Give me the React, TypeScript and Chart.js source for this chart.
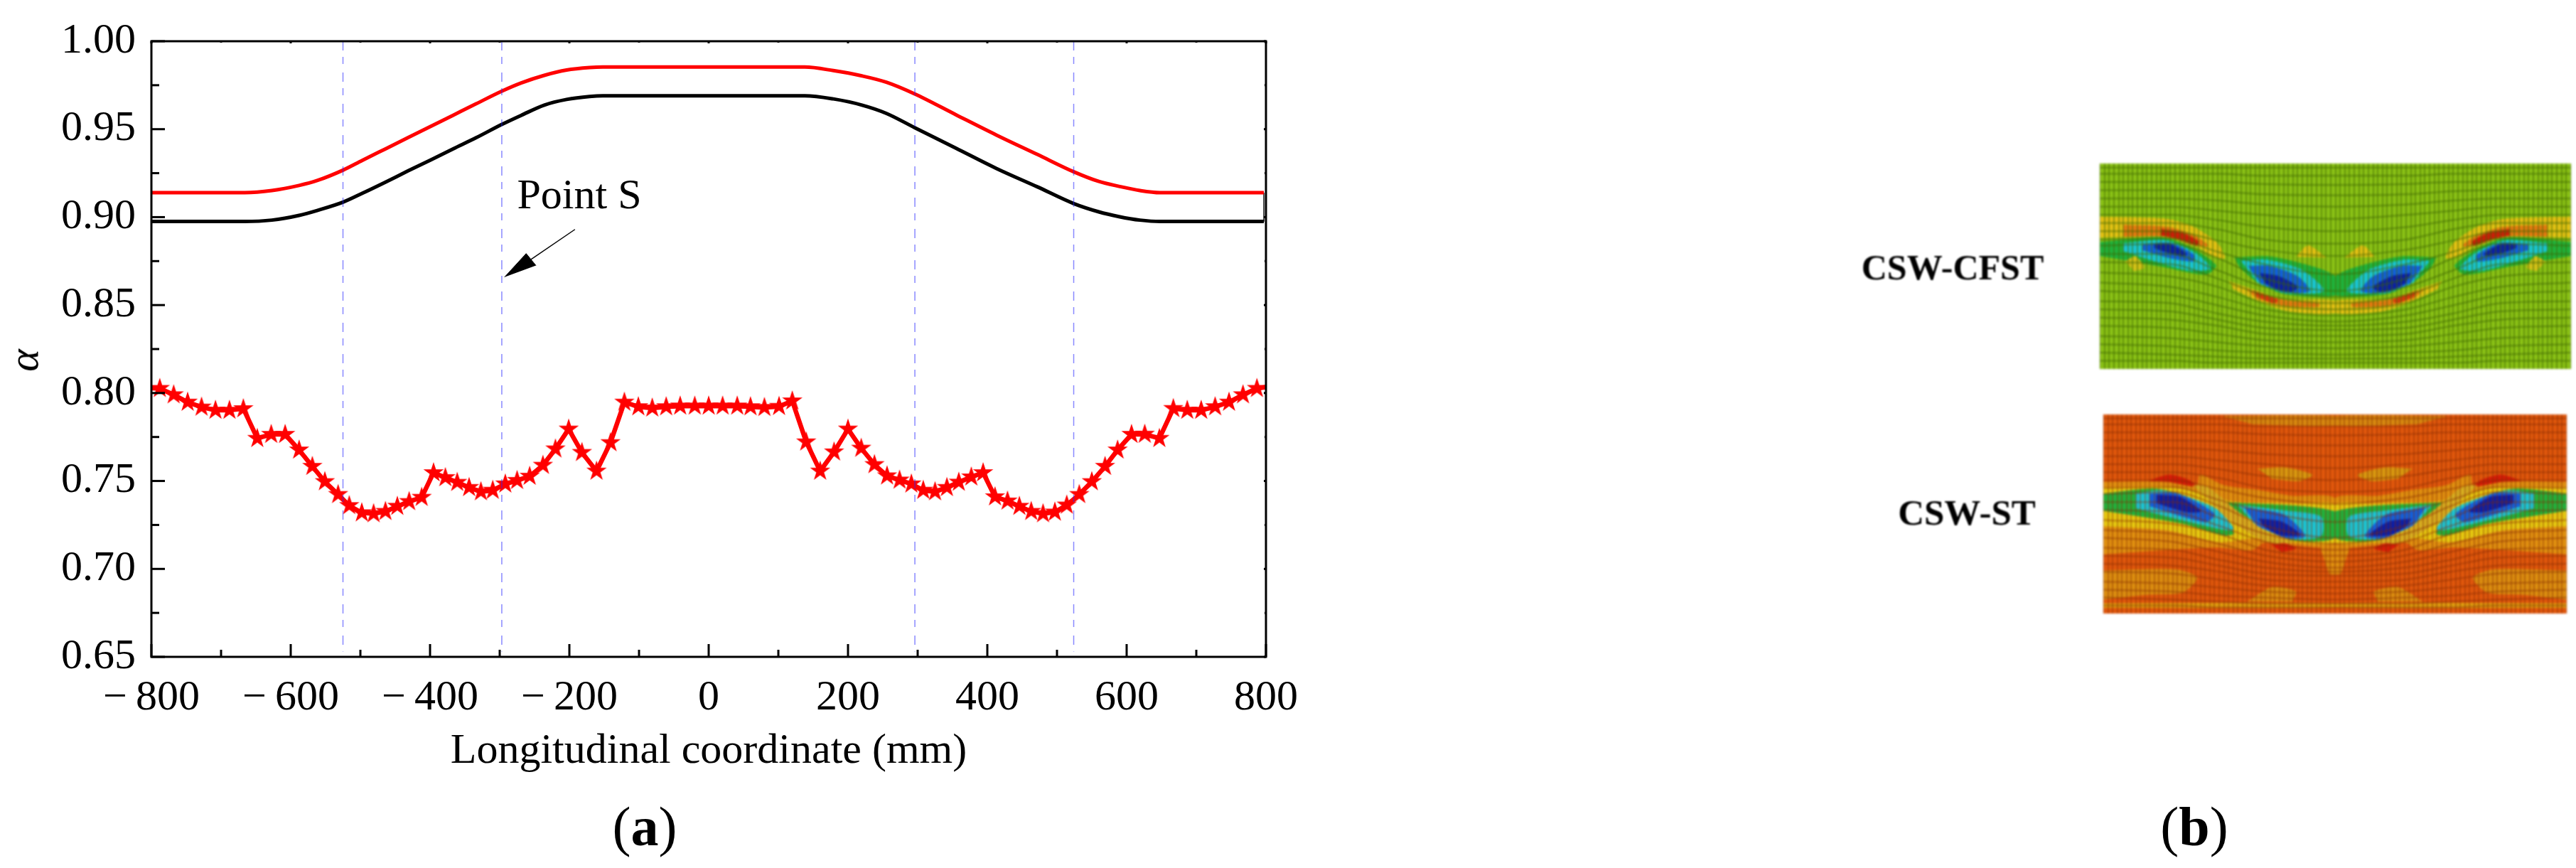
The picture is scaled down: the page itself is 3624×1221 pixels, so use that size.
import React, { useEffect, useRef } from "react";
import { Chart, registerables } from "chart.js";

Chart.register(...registerables);
document.body.style.margin = "0";

const SERIF = '"Liberation Serif", "Times New Roman", serif';

// panel (a) data
const redX = [-800, -666, -627, -588, -562, -525, -497, -464, -432, -399, -367, -334, -297, -269, -236, -204, -171, -152, 138, 179, 220, 255, 296, 355, 413, 472, 524, 560, 589, 619, 648, 797];
const redY = [0.9139, 0.9139, 0.9151, 0.918, 0.9208, 0.9267, 0.9323, 0.9388, 0.9451, 0.9516, 0.9579, 0.9644, 0.9716, 0.9763, 0.9806, 0.9836, 0.985, 0.9853, 0.9853, 0.9833, 0.9803, 0.9767, 0.97, 0.9582, 0.9467, 0.9356, 0.9258, 0.9203, 0.9175, 0.9151, 0.9139, 0.9139];
const blackY = [0.8975, 0.8975, 0.8983, 0.901, 0.9038, 0.9085, 0.9136, 0.9199, 0.9262, 0.9325, 0.9388, 0.9451, 0.9527, 0.9579, 0.9637, 0.9669, 0.9686, 0.969, 0.969, 0.9672, 0.9637, 0.959, 0.9508, 0.9392, 0.9277, 0.9172, 0.9077, 0.903, 0.9003, 0.8983, 0.8975, 0.8975];

const starX = [-800, -788, -768, -748, -728, -708, -688, -668, -648, -628, -608, -588, -569, -551, -532, -516, -498, -481, -464, -447, -430, -412, -395, -378, -361, -344, -327, -310, -292, -275, -257, -238, -220, -201, -182, -161, -141, -121, -101, -81, -61, -41, -20, 0, 20, 41, 60, 80, 101, 120, 140, 160, 180, 200, 219, 238, 256, 274, 291, 308, 325, 342, 359, 377, 394, 411, 429, 446, 463, 480, 497, 514, 532, 550, 569, 587, 607, 626, 647, 667, 687, 707, 727, 747, 767, 787, 800];
const starY = [0.8028, 0.8026, 0.799, 0.7948, 0.792, 0.7902, 0.7902, 0.7911, 0.7742, 0.7765, 0.7765, 0.7676, 0.7583, 0.7496, 0.7423, 0.736, 0.7319, 0.7314, 0.7327, 0.7356, 0.7383, 0.7407, 0.7547, 0.7519, 0.7492, 0.7463, 0.7439, 0.7447, 0.7483, 0.7503, 0.7527, 0.7589, 0.7682, 0.7795, 0.7662, 0.7556, 0.7718, 0.7948, 0.7922, 0.7915, 0.7922, 0.7926, 0.7926, 0.7926, 0.7926, 0.7926, 0.7922, 0.7918, 0.7924, 0.7955, 0.7722, 0.7556, 0.7665, 0.7795, 0.7686, 0.7593, 0.7529, 0.7505, 0.7483, 0.7447, 0.7439, 0.7463, 0.7493, 0.7523, 0.7547, 0.741, 0.7386, 0.7356, 0.7327, 0.7314, 0.7323, 0.7363, 0.7423, 0.7496, 0.7583, 0.7676, 0.7765, 0.7766, 0.7742, 0.7912, 0.7902, 0.7902, 0.7922, 0.7948, 0.799, 0.8026, 0.8034];

const refLineX = [-525, -297, 296, 524];
const xMinorTicks = [-700, -500, -300, -100, 100, 300, 500, 700];
const yMinorTicks = [0.675, 0.725, 0.775, 0.825, 0.875, 0.925, 0.975];

const arrowLine: [number, number][] = [[-192, 0.893], [-255, 0.876]];
const arrowHead: [number, number][] = [[-293, 0.8659], [-262, 0.8793], [-248, 0.8725]];

// panel (b) contour shapes, left half in percent of the panel, mirrored on x = 50
type Shape = { color: string; pts: number[][] };

const meshX = [0, 15, 25, 35, 50];
const meshRows = [
  [2, 2, 2, 2, 2], [5, 5, 5, 6, 6], [9, 9, 9, 10, 10.5], [13, 13, 13.5, 15, 15.5],
  [17, 17, 18, 20, 21], [21, 21, 23, 25, 27], [25, 25, 27.5, 31, 33], [29, 29, 32, 37, 39],
  [33, 33, 37.5, 42, 45], [37, 36.5, 43, 49, 54], [40, 39, 46, 56, 62], [44, 44, 52, 60, 65],
  [48, 49, 56, 64, 68], [53, 55, 60, 68, 71], [58, 60, 65, 71, 74], [62, 64, 69, 74, 77],
  [67, 68, 73, 77, 79], [71, 72, 76, 80, 81], [75, 76, 79, 83, 84], [79, 80, 83, 86, 87],
  [84, 85, 87, 89, 90], [88, 89, 91, 92, 93], [92, 93, 94, 95, 95], [96, 96, 97, 97, 97],
];

const GREEN = "#1fb43c";
const CYAN = "#18c8d8";
const BLUE = "#1060e0";
const DARK = "#0a1ea8";

const cfstShapes: Shape[] = [
  { color: "#e8c414", pts: [[0, 26], [14, 27], [20, 31], [25, 39], [26.5, 46], [24, 45], [20, 39.5], [14, 35.5], [0, 36]] },
  { color: "#e87a10", pts: [[5, 30], [14.5, 31], [20, 35], [23, 40], [20, 39.5], [14, 35.5], [5, 35.5]] },
  { color: "#d01c08", pts: [[13, 32], [17.4, 33.7], [21, 38], [20.6, 39.9], [16.6, 36.6], [13, 34.9]] },
  { color: GREEN, pts: [[0, 38.4], [13, 36], [19, 40.7], [24.6, 49.5], [22.5, 54], [13, 50], [0, 44.8]] },
  { color: CYAN, pts: [[5, 39], [14, 37.5], [20.5, 44], [23.5, 51], [19, 52], [11, 47], [5, 42.5]] },
  { color: BLUE, pts: [[9, 39.5], [15, 38.8], [20, 44.5], [20, 47.5], [15, 46], [9, 42]] },
  { color: DARK, pts: [[11.6, 39.5], [15, 39.5], [18.5, 44], [17.5, 45], [14, 43], [11.6, 41]] },
  { color: "#e8c414", pts: [[41.7, 45.4], [44.2, 40], [48, 45.8]] },
  { color: "#d8c418", pts: [[5.4, 47.7], [7.6, 45.3], [9.4, 50.7], [7.2, 52.2]] },
  { color: "#e8c414", pts: [[27.5, 57.5], [33.3, 62], [39, 66.3], [50, 67], [50, 72.7], [40.5, 72], [34.8, 68], [28.3, 61]] },
  { color: "#e87a10", pts: [[31, 61], [34.8, 64], [39.9, 66.9], [46.4, 68], [46.4, 69.7], [39, 69.1], [33.3, 65.7]] },
  { color: "#d8380c", pts: [[32.6, 62], [37.7, 66.3], [37, 68], [33.3, 64.5]] },
  { color: GREEN, pts: [[28.6, 45.9], [36.2, 45.4], [45.7, 50.6], [50, 55.2], [50, 64], [39.1, 63.4], [33.3, 57.5], [29.7, 50.6]] },
  { color: CYAN, pts: [[30, 47.5], [35.5, 47], [43, 52], [47.5, 62], [39.5, 63], [33.5, 58]] },
  { color: BLUE, pts: [[31.5, 50], [36, 50], [42, 55], [44.5, 62], [39, 62.5], [34, 58]] },
  { color: DARK, pts: [[34, 53.5], [38, 55], [42, 60], [41, 62], [38, 61.5], [35, 58]] },
];

const stShapes: Shape[] = [
  { color: "#d88a10", pts: [[26, 1], [50, 1], [50, 5.4], [32, 4.8]] },
  { color: "#d99a10", pts: [[33.4, 27.4], [39.3, 26.8], [45.1, 30.4], [42.2, 33.3], [36.3, 32.1]] },
  { color: "#d81c08", pts: [[9.9, 33.3], [14.3, 30.4], [18.7, 33.3], [20.2, 36.9], [12.1, 34.5]] },
  { color: "#dd9010", pts: [[0, 78.6], [15.8, 78], [20.2, 82], [17.2, 89.3], [9.2, 90.5], [0, 92.9]] },
  { color: "#dd9010", pts: [[31.2, 94], [36.3, 87], [41.5, 89], [40.7, 94]] },
  { color: "#e0a010", pts: [[0, 95], [50, 95], [50, 97], [0, 97]] },
  { color: "#e29210", pts: [[0, 34], [13.6, 34], [20.2, 36.3], [20.9, 30.4], [26, 35.7], [33.4, 38.1], [40.7, 41], [50, 42.3], [50, 65.5], [40.7, 65.5], [34.8, 64.3], [32, 68], [24.6, 66.7], [13.6, 67.9], [0, 70.2]] },
  { color: "#e29210", pts: [[46.6, 65.5], [50, 65.5], [50, 80], [48.7, 80]] },
  { color: "#e8cc10", pts: [[0, 37], [13.6, 36.5], [20.2, 39], [28, 44], [36, 44.5], [42, 45], [50, 45.5], [50, 64], [41, 64], [33, 62], [25, 64], [13.6, 58], [0, 56]] },
  { color: GREEN, pts: [[0, 39.9], [11.4, 37.5], [19.4, 42.9], [28.2, 59.5], [26, 60.7], [17.2, 54.8], [0, 48.2]] },
  { color: CYAN, pts: [[7, 39.9], [13, 38.3], [24, 47], [28, 58], [17, 53], [7, 47]] },
  { color: BLUE, pts: [[10, 40], [16, 39.8], [24, 50], [22, 54], [10, 46]] },
  { color: DARK, pts: [[11.5, 40.5], [16.5, 41.5], [21, 48.5], [18, 49], [11.5, 44.5]] },
  { color: GREEN, pts: [[24.6, 44], [50, 48.8], [50, 61.9], [40.7, 63.1], [35.6, 57.1]] },
  { color: CYAN, pts: [[29, 45.5], [39.5, 48.5], [47, 51.5], [47, 61], [40.7, 62.5], [33, 56]] },
  { color: BLUE, pts: [[30.5, 47], [39, 50.5], [43.5, 61], [39.5, 62], [33, 55.5]] },
  { color: DARK, pts: [[33.5, 52.5], [38.5, 54], [42.5, 60.5], [38, 60.5], [34.5, 56]] },
  { color: "#d8b020", pts: [[19.4, 35.7], [22.4, 36.3], [29, 48.8], [35.6, 59.5], [40.7, 63.7], [38.5, 65.5], [33.4, 61.9], [26.8, 52.4]] },
  { color: "#d81c08", pts: [[36.3, 65.5], [39.3, 64.9], [41.5, 67.3], [38.5, 69]] },
];

const zip = (xs: number[], ys: number[]) => xs.map((x, i) => ({ x, y: ys[i] }));
const toXY = (pts: number[][]) => pts.map(([x, y]) => ({ x, y }));

function makeStar(r: number) {
  const c = document.createElement("canvas");
  c.width = c.height = Math.ceil(r * 2 + 2);
  const ctx = c.getContext("2d")!;
  const m = c.width / 2;
  ctx.fillStyle = "#ff0000";
  ctx.beginPath();
  for (let i = 0; i < 10; i++) {
    const rad = i % 2 ? r * 0.382 : r;
    const a = -Math.PI / 2 + (i * Math.PI) / 5;
    ctx.lineTo(m + rad * Math.cos(a), m + rad * Math.sin(a));
  }
  ctx.closePath();
  ctx.fill();
  return c;
}

// inward ticks and the closed frame
const framePlugin = {
  id: "frame",
  afterDatasetsDraw(chart: any) {
    const { ctx, chartArea: a, scales } = chart;
    ctx.save();
    ctx.strokeStyle = "#000";
    ctx.lineWidth = 3;
    ctx.strokeRect(a.left, a.top, a.right - a.left, a.bottom - a.top);
    const tick = (x1: number, y1: number, x2: number, y2: number) => {
      ctx.beginPath();
      ctx.moveTo(x1, y1);
      ctx.lineTo(x2, y2);
      ctx.stroke();
    };
    scales.x.ticks.forEach((t: any) => {
      const px = scales.x.getPixelForValue(t.value);
      tick(px, a.bottom, px, a.bottom - 18);
      tick(px, a.top, px, a.top + 3);
    });
    xMinorTicks.forEach((v) => {
      const px = scales.x.getPixelForValue(v);
      tick(px, a.bottom, px, a.bottom - 10);
      tick(px, a.top, px, a.top + 2);
    });
    scales.y.ticks.forEach((t: any) => {
      const py = scales.y.getPixelForValue(t.value);
      tick(a.left, py, a.left + 19, py);
      tick(a.right, py, a.right - 3, py);
    });
    yMinorTicks.forEach((v) => {
      const py = scales.y.getPixelForValue(v);
      tick(a.left, py, a.left + 11, py);
      tick(a.right, py, a.right - 2, py);
    });
    ctx.restore();
  },
};

function LineChart() {
  const canvasRef = useRef<HTMLCanvasElement | null>(null);

  useEffect(() => {
    if (!canvasRef.current) return;
    const star = makeStar(15);
    const chart = new Chart(canvasRef.current, {
      type: "scatter",
      data: {
        datasets: [
          ...refLineX.map((x) => ({
            data: [{ x, y: 1 }, { x, y: 0.653 }],
            showLine: true,
            borderColor: "rgba(40,40,255,0.55)",
            borderWidth: 1.5,
            borderDash: [13, 9, 10, 12],
            pointRadius: 0,
          })),
          {
            data: toXY(arrowHead),
            showLine: true,
            fill: "shape",
            backgroundColor: "#000",
            borderColor: "#000",
            borderWidth: 1,
            pointRadius: 0,
          },
          {
            data: toXY(arrowLine),
            showLine: true,
            borderColor: "#000",
            borderWidth: 1.5,
            pointRadius: 0,
          },
          {
            data: zip(starX, starY),
            showLine: true,
            borderColor: "#ff0000",
            borderWidth: 6.5,
            borderJoinStyle: "round",
            pointStyle: star,
            pointRadius: starX.map((x) => (Math.abs(x) === 800 ? 0 : 10)),
          },
          {
            data: zip(redX, redY),
            showLine: true,
            borderColor: "#ff0000",
            borderWidth: 5,
            cubicInterpolationMode: "monotone",
            pointRadius: 0,
          },
          {
            data: zip(redX, blackY),
            showLine: true,
            borderColor: "#000",
            borderWidth: 5,
            cubicInterpolationMode: "monotone",
            pointRadius: 0,
          },
          {
            data: [{ x: 797, y: 0.9139 }, { x: 797, y: 0.8975 }],
            showLine: true,
            borderColor: "#333",
            borderWidth: 1,
            pointRadius: 0,
          },
        ] as any,
      },
      options: {
        animation: false,
        responsive: false,
        devicePixelRatio: 1,
        layout: { padding: { left: 0, top: 47.5, right: 119, bottom: 128 } },
        plugins: { legend: { display: false }, tooltip: { enabled: false } },
        scales: {
          x: {
            min: -800,
            max: 800,
            afterFit: (s: any) => { s.height = 169; },
            border: { display: false },
            grid: { display: false, drawTicks: false },
            title: {
              display: true,
              text: "Longitudinal coordinate (mm)",
              color: "#000",
              padding: 0,
              font: { family: SERIF, size: 60 },
            },
            ticks: {
              stepSize: 200,
              autoSkip: false,
              maxRotation: 0,
              padding: 22,
              color: "#000",
              font: { family: SERIF, size: 60 },
              callback: (v: any) => (v < 0 ? `\u2212\u2009${-v}` : `${v}`),
            },
          },
          y: {
            min: 0.65,
            max: 1,
            afterFit: (s: any) => { s.width = 213; },
            border: { display: false },
            grid: { display: false, drawTicks: false },
            ticks: {
              stepSize: 0.05,
              autoSkip: false,
              padding: 22,
              color: "#000",
              font: { family: SERIF, size: 60 },
              callback: (v: any) => Number(v).toFixed(2),
            },
          },
        },
      } as any,
      plugins: [framePlugin],
    });
    return () => chart.destroy();
  }, []);

  return <canvas ref={canvasRef} width={1900} height={1221} style={{ position: "absolute", left: 0, top: 0 }} />;
}

function ContourChart({ shapes, base, meshColor, box }: { shapes: Shape[]; base: string; meshColor: string; box: number[] }) {
  const canvasRef = useRef<HTMLCanvasElement | null>(null);

  useEffect(() => {
    if (!canvasRef.current) return;
    // both halves of the panel
    const both = shapes.flatMap((s) => [s, { color: s.color, pts: s.pts.map(([x, y]) => [100 - x, y]) }]);
    const fills = both.map((s) => ({
      data: toXY(s.pts),
      showLine: true,
      fill: "shape",
      tension: 0.25,
      backgroundColor: s.color,
      borderColor: s.color,
      borderWidth: 1,
      pointRadius: 0,
    }));
    const mesh = meshRows.map((row) => ({
      data: [...zip(meshX, row), ...zip(meshX, row).reverse().slice(1).map((p) => ({ x: 100 - p.x, y: p.y }))],
      showLine: true,
      borderColor: meshColor,
      borderWidth: 2,
      cubicInterpolationMode: "monotone",
      pointRadius: 0,
    }));
    const chart = new Chart(canvasRef.current, {
      type: "scatter",
      data: { datasets: [...mesh, ...fills.reverse()] as any },
      options: {
        animation: false,
        responsive: false,
        devicePixelRatio: 1,
        layout: { padding: 0 },
        plugins: { legend: { display: false }, tooltip: { enabled: false } },
        scales: {
          x: {
            min: 0,
            max: 100,
            afterFit: (s: any) => { s.height = 0; },
            border: { display: false },
            grid: { color: meshColor, lineWidth: 2, drawTicks: false, z: 1 },
            ticks: { display: false, stepSize: 1, autoSkip: false, maxTicksLimit: 200 },
          },
          y: {
            min: 0,
            max: 100,
            reverse: true,
            display: false,
          },
        },
      } as any,
    });
    return () => chart.destroy();
  }, []);

  return (
    <canvas
      ref={canvasRef}
      width={box[2]}
      height={box[3]}
      style={{ position: "absolute", left: box[0], top: box[1], background: base, filter: "blur(1.5px)" }}
    />
  );
}

function Label({ x, y, size, bold, blur, children }: any) {
  return (
    <div
      style={{
        position: "absolute",
        left: x,
        top: y,
        transform: "translate(-50%, -50%)",
        fontFamily: SERIF,
        fontSize: size,
        fontWeight: bold ? "bold" : "normal",
        lineHeight: 1,
        whiteSpace: "nowrap",
        color: "#000",
        filter: blur ? "blur(1px)" : undefined,
      }}
    >
      {children}
    </div>
  );
}

export default function App() {
  return (
    <div style={{ position: "relative", width: 3624, height: 1221, overflow: "hidden", background: "#fff" }}>
      <LineChart />
      <div
        style={{
          position: "absolute",
          left: 33,
          top: 507,
          transform: "translate(-50%, -50%) rotate(-90deg)",
          fontFamily: SERIF,
          fontStyle: "italic",
          fontSize: 60,
          lineHeight: 1,
        }}
      >
        α
      </div>
      <Label x={815} y={273} size={60}>Point S</Label>
      <Label x={907} y={1163} size={78}>(<b>a</b>)</Label>
      <ContourChart shapes={cfstShapes} base="#8cc416" meshColor="rgba(60,100,0,0.6)" box={[2954, 230, 663, 289]} />
      <ContourChart shapes={stShapes} base="#e2580c" meshColor="rgba(130,40,0,0.5)" box={[2959, 583, 652, 280]} />
      <Label x={2747} y={376} size={50} bold blur>CSW-CFST</Label>
      <Label x={2767} y={721} size={51} bold blur>CSW-ST</Label>
      <Label x={3087} y={1163} size={78}>(<b>b</b>)</Label>
    </div>
  );
}
